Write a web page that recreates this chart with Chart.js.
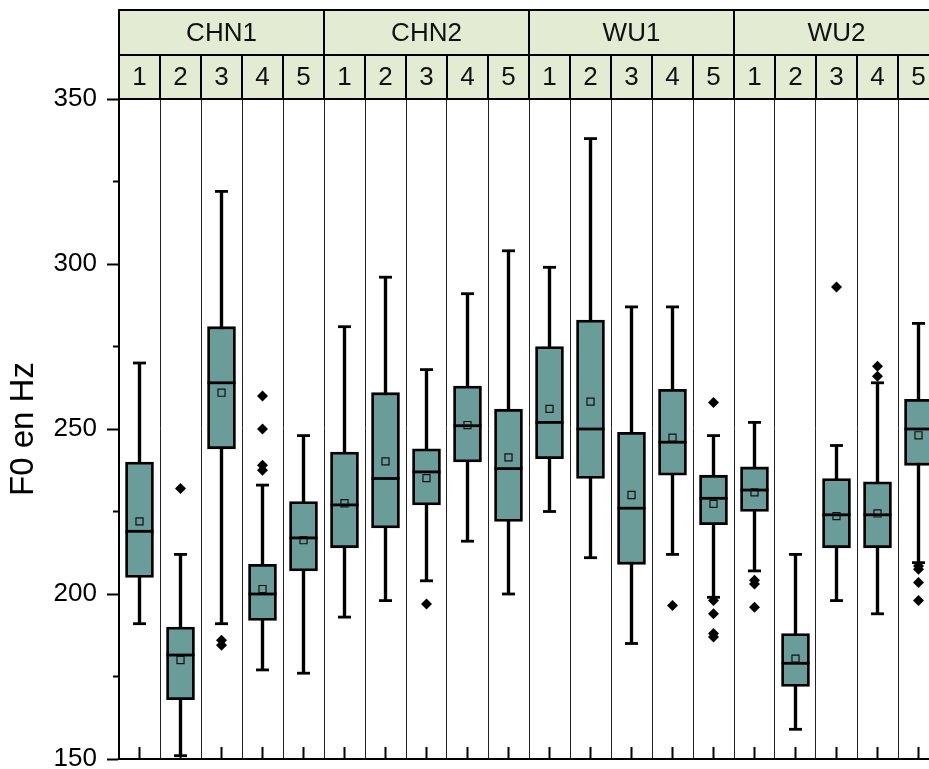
<!DOCTYPE html>
<html>
<head>
<meta charset="utf-8">
<script src="https://cdn.jsdelivr.net/npm/chart.js@4.4.0/dist/chart.umd.min.js"></script>
<style>
  html, body { margin: 0; padding: 0; background: #fff; }
  canvas { display: block; }
</style>
</head>
<body>
<canvas id="chart" width="929" height="769"></canvas>
<script>
// Speaker groups and the five tones recorded for each
const groups = ['CHN1', 'CHN2', 'WU1', 'WU2'];
const tones = ['1', '2', '3', '4', '5'];

// Box-plot statistics per group/tone (F0, Hz), in group order
const whiskerHigh = [270, 212, 322, 233, 248,  281, 296, 268, 291, 304,  299, 338, 287, 287, 248,  252, 212, 245, 264, 282];
const q3          = [240, 190, 281, 209, 228,  243, 261, 244, 263, 256,  275, 283, 249, 262, 236,  238.5, 188, 235, 234, 259];
const median      = [219, 181.5, 264, 200, 217,  227, 235, 237, 251, 238,  252, 250, 226, 246, 229,  231.5, 179, 224, 224, 250];
const mean        = [222, 180, 261, 201.5, 216.3,  227.5, 240.2, 235.1, 251.2, 241.4,  256.1, 258.3, 230, 247.4, 227.3,  230.8, 180.4, 223.6, 224.4, 248.1];
const q1          = [205, 168, 244, 192, 207,  214, 220, 227, 240, 222,  241, 235, 209, 236, 221,  225, 172, 214, 214, 239];
const whiskerLow  = [191, 151, 191, 177, 176,  193, 198, 204, 216, 200,  225, 211, 185, 212, 199,  207, 159, 198, 194, 209.5];
const outliers = [
  [], [232], [186, 184.5], [260, 250, 239, 237.5], [],
  [], [], [197], [], [],
  [], [], [], [196.5], [258, 198, 194, 188, 187],
  [204.2, 203, 196], [], [293], [269, 266], [208.5, 207.5, 203.5, 198]
];

// Y axis ticks
const yTicks = [150, 200, 250, 300, 350];
const yMinorTicks = [175, 225, 275, 325];

const FONT = "'Liberation Sans', Arial, sans-serif";
const BOX_FILL = '#6a9c9a';
const HEADER_FILL = '#e3ebd3';
const INK = '#000000';

const nCats = groups.length * tones.length;
const idx = [...Array(nCats).keys()];
const dividers = idx.slice(0, nCats - 1).map(i => i + 0.5);

const boxData = idx.map(i => ({ x: i, y: [q1[i], q3[i]] }));
const stemData = idx.map(i => ({ x: i, y: [whiskerLow[i], whiskerHigh[i]] }));
const medianData = idx.map(i => ({ x: i, y: median[i] }));
const meanData = idx.map(i => ({ x: i, y: mean[i] }));
const capData = idx.map(i => ({ x: i, y: whiskerHigh[i] }))
  .concat(idx.map(i => ({ x: i, y: whiskerLow[i] })));
const outlierData = [];
outliers.forEach((list, i) => list.forEach(v => outlierData.push({ x: i, y: v })));

// Two-row header (group / tone) plus the minor and inner axis ticks
const frame = {
  id: 'frame',
  afterDraw(chart) {
    const { ctx, chartArea: a, scales: { x, y } } = chart;
    const top = 10, mid = 55, bot = a.top;
    const left = x.getPixelForValue(-0.5);
    const right = x.getPixelForValue(nCats - 0.5);
    ctx.save();
    ctx.fillStyle = HEADER_FILL;
    ctx.fillRect(left, top, right - left, bot - top);

    ctx.strokeStyle = INK;
    ctx.lineWidth = 2;
    ctx.beginPath();
    [top, mid, bot].forEach(yy => { ctx.moveTo(left - 1, yy); ctx.lineTo(right, yy); });
    for (let i = 0; i <= nCats; i++) {
      const xx = x.getPixelForValue(i - 0.5);
      const y0 = (i % tones.length === 0) ? top : mid;
      ctx.moveTo(xx, y0); ctx.lineTo(xx, bot);
    }
    ctx.stroke();

    ctx.fillStyle = '#111';
    ctx.font = '26px ' + FONT;
    ctx.textAlign = 'center';
    ctx.textBaseline = 'middle';
    groups.forEach((g, gi) => {
      const x0 = x.getPixelForValue(gi * tones.length - 0.5);
      const x1 = x.getPixelForValue((gi + 1) * tones.length - 0.5);
      ctx.fillText(g, (x0 + x1) / 2, (top + mid) / 2 + 1);
      tones.forEach((t, ti) => {
        ctx.fillText(t, x.getPixelForValue(gi * tones.length + ti), (mid + bot) / 2 + 1);
      });
    });

    // minor ticks on the value axis
    ctx.beginPath();
    yMinorTicks.forEach(v => {
      const yy = y.getPixelForValue(v);
      ctx.moveTo(a.left - 6, yy); ctx.lineTo(a.left, yy);
    });
    // inner ticks at each tone position along the bottom
    idx.forEach(i => {
      const xx = x.getPixelForValue(i);
      ctx.moveTo(xx, a.bottom); ctx.lineTo(xx, a.bottom - 12);
    });
    ctx.stroke();
    ctx.restore();
  }
};

new Chart(document.getElementById('chart'), {
  type: 'bar',
  data: {
    datasets: [
      {
        type: 'line', data: outlierData, showLine: false, order: 0,
        pointStyle: 'rectRot', pointRadius: 5.5,
        pointBackgroundColor: INK, pointBorderColor: INK, pointBorderWidth: 0
      },
      {
        type: 'line', data: meanData, showLine: false, order: 1,
        pointStyle: 'rect', pointRadius: 5,
        pointBackgroundColor: 'rgba(0,0,0,0)', pointBorderColor: '#111', pointBorderWidth: 1.2
      },
      {
        type: 'line', data: medianData, showLine: false, order: 2,
        pointStyle: 'line', pointRadius: 14,
        pointBorderColor: INK, pointBorderWidth: 2.8
      },
      {
        type: 'line', data: capData, showLine: false, order: 3,
        pointStyle: 'line', pointRadius: 6.5,
        pointBorderColor: INK, pointBorderWidth: 2.8
      },
      {
        type: 'bar', data: boxData, order: 4, grouped: false,
        barThickness: 28, backgroundColor: BOX_FILL,
        borderColor: INK, borderWidth: 2.8, borderSkipped: false
      },
      {
        type: 'bar', data: stemData, order: 5, grouped: false,
        barThickness: 2.7, backgroundColor: INK, borderWidth: 0
      }
    ]
  },
  options: {
    responsive: false,
    animation: false,
    events: [],
    layout: { autoPadding: false, padding: { top: 99, bottom: 10, left: 0, right: 0 } },
    plugins: { legend: { display: false }, tooltip: { enabled: false } },
    scales: {
      x: {
        type: 'linear',
        offset: false,
        min: -0.5,
        max: -0.5 + 810 / 41,
        afterBuildTicks: s => { s.ticks = dividers.map(v => ({ value: v })); },
        afterFit: s => { s.height = 0; s.paddingLeft = 0; s.paddingRight = 0; },
        ticks: { display: false },
        grid: { color: '#222', lineWidth: 1, drawTicks: false, offset: false },
        border: { color: INK, width: 2 }
      },
      y: {
        min: 150,
        max: 350,
        afterBuildTicks: s => { s.ticks = yTicks.map(v => ({ value: v })); },
        afterFit: s => { s.width = 119; s.paddingTop = 0; s.paddingBottom = 0; },
        ticks: { color: INK, font: { family: FONT, size: 26 }, padding: 10 },
        grid: { drawOnChartArea: false, tickLength: 12, tickWidth: 2, tickColor: INK },
        border: { color: INK, width: 2 },
        title: {
          display: true, text: 'F0 en Hz', color: INK,
          font: { family: FONT, size: 33 }, padding: { top: 4, bottom: 0 }
        }
      }
    }
  },
  plugins: [frame]
});
</script>
</body>
</html>
